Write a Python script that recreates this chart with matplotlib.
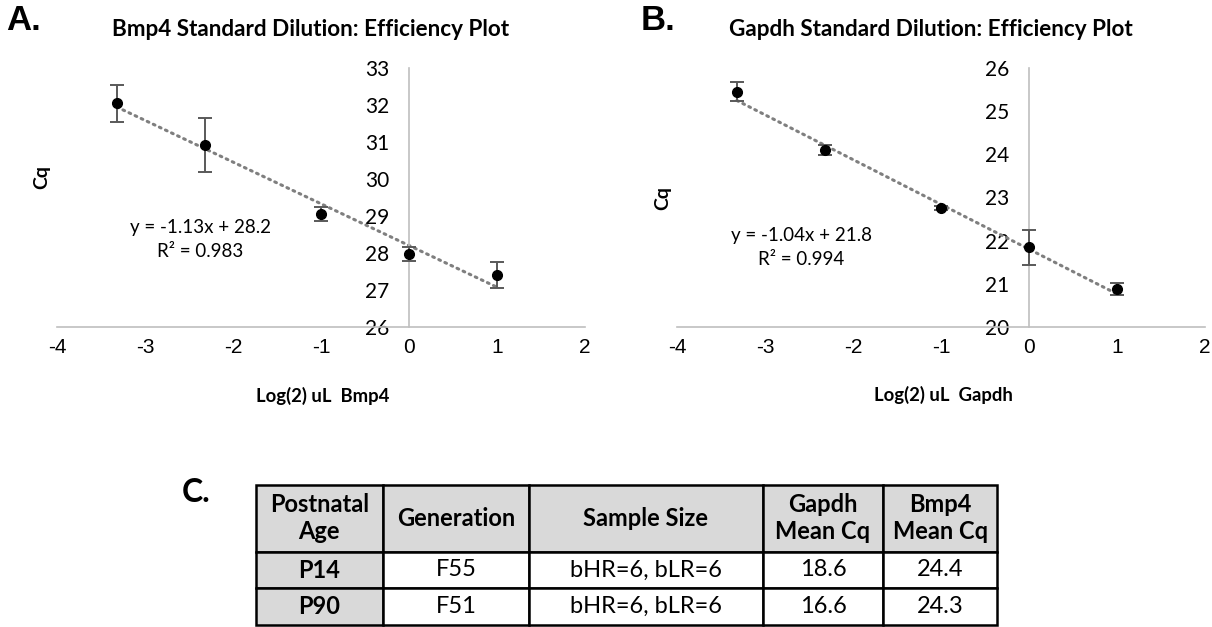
import matplotlib
matplotlib.use('Agg')
import matplotlib.pyplot as plt

plt.rcParams['axes.unicode_minus'] = False

# Serial dilution volumes (log2 uL)
log2_ul = [-3.32, -2.32, -1.0, 0.0, 1.0]

# Bmp4 standard curve
bmp4_cq = [32.05, 30.92, 29.04, 27.97, 27.39]
bmp4_err = [0.50, 0.73, 0.19, 0.19, 0.35]
bmp4_slope, bmp4_icpt, bmp4_r2 = -1.13, 28.2, 0.983

# Gapdh standard curve
gapdh_cq = [25.46, 24.10, 22.76, 21.84, 20.87]
gapdh_err = [0.22, 0.11, 0.05, 0.40, 0.14]
gapdh_slope, gapdh_icpt, gapdh_r2 = -1.04, 21.8, 0.994

# Summary table
col_labels = ['Postnatal\nAge', 'Generation', 'Sample Size', 'Gapdh\nMean Cq', 'Bmp4\nMean Cq']
age = ['P14', 'P90']
generation = ['F55', 'F51']
sample_size = ['bHR=6, bLR=6', 'bHR=6, bLR=6']
gapdh_mean = [18.6, 16.6]
bmp4_mean = [24.4, 24.3]

NARROW = ['Lato', 'DejaVu Sans']
ARIAL = ['Liberation Sans', 'DejaVu Sans']
AXIS_GREY = '#bfbfbf'

W, H = 1212, 627
fig = plt.figure(figsize=(W / 100, H / 100), dpi=100)


def px(x, y):
    # pixel position (top-left origin) -> figure fraction
    return x / W, 1 - y / H


def efficiency_plot(left_px, cq, err, slope, icpt, r2, ylim, eq_pos):
    l, _ = px(left_px, 0)
    ax = fig.add_axes([l, 1 - 326.7 / H, 528 / W, (326.7 - 68.3) / H])
    ax.set_xlim(-4, 2)
    ax.set_ylim(*ylim)
    for s in ['top', 'right']:
        ax.spines[s].set_visible(False)
    ax.spines['left'].set_position(('data', 0))
    for s in ['left', 'bottom']:
        ax.spines[s].set_color(AXIS_GREY)
        ax.spines[s].set_linewidth(1.2)
    ax.set_xticks(range(-4, 3))
    ax.set_yticks(range(ylim[0], ylim[1] + 1))
    ax.tick_params(axis='x', length=0, pad=8, labelsize=15, labelfontfamily=ARIAL)
    ax.tick_params(axis='y', length=0, pad=14, labelsize=15, labelfontfamily=NARROW)

    # trendline over the data range
    tx = [min(log2_ul), max(log2_ul)]
    ty = [slope * v + icpt for v in tx]
    ax.plot(tx, ty, linestyle=(0, (0.6, 1.6)), dash_capstyle='round',
            color='#7f7f7f', linewidth=2.2, zorder=2)
    ax.errorbar(log2_ul, cq, yerr=err, fmt='none', ecolor='#595959',
                elinewidth=1.4, capsize=5, capthick=1.4, zorder=3)
    ax.plot(log2_ul, cq, 'o', color='black', markersize=7, zorder=4)

    ax.text(eq_pos[0], eq_pos[1], f'y = {slope:.2f}x + {icpt:.1f}\nR² = {r2:.3f}',
            ha='center', va='center', fontsize=13.5, family=NARROW, linespacing=1.5)
    return ax


efficiency_plot(57, bmp4_cq, bmp4_err, bmp4_slope, bmp4_icpt, bmp4_r2,
                (26, 33), (-2.37, 28.35))
efficiency_plot(677, gapdh_cq, gapdh_err, gapdh_slope, gapdh_icpt, gapdh_r2,
                (20, 26), (-2.59, 21.85))

# titles, axis labels and panel letters
fig.text(*px(311, 29), 'Bmp4 Standard Dilution: Efficiency Plot', ha='center', va='center',
         fontsize=16.2, fontweight='bold', family=NARROW)
fig.text(*px(931, 29), 'Gapdh Standard Dilution: Efficiency Plot', ha='center', va='center',
         fontsize=16.2, fontweight='bold', family=NARROW)
fig.text(*px(42, 177), 'Cq', rotation=90, ha='center', va='center',
         fontsize=14, fontweight='bold', family=NARROW)
fig.text(*px(663, 198), 'Cq', rotation=90, ha='center', va='center',
         fontsize=14, fontweight='bold', family=NARROW)
fig.text(*px(323, 396), 'Log(2) uL  Bmp4', ha='center', va='center',
         fontsize=13.3, fontweight='bold', family=NARROW)
fig.text(*px(943, 395), 'Log(2) uL  Gapdh', ha='center', va='center',
         fontsize=13.3, fontweight='bold', family=NARROW)
fig.text(*px(6, 20), 'A.', ha='left', va='center', fontsize=25, fontweight='bold', family=ARIAL)
fig.text(*px(641, 20), 'B.', ha='left', va='center', fontsize=25, fontweight='bold', family=ARIAL)
fig.text(*px(182, 493), 'C.', ha='left', va='center', fontsize=23, fontweight='bold', family=NARROW)

# summary table
tl, tb = px(255.7, 625)
tax = fig.add_axes([tl, tb, (997.3 - 255.7) / W, (625 - 485) / H])
tax.axis('off')
rows = [[a, g, s, f'{gm:.1f}', f'{bm:.1f}']
        for a, g, s, gm, bm in zip(age, generation, sample_size, gapdh_mean, bmp4_mean)]
col_w = [127, 146.3, 233.7, 120.6, 114]
tbl = tax.table(cellText=rows, colLabels=col_labels, colWidths=[c / sum(col_w) for c in col_w],
                cellLoc='center', bbox=[0, 0, 1, 1])
tbl.auto_set_font_size(False)
row_h = [66.7, 36.6, 36.7]
for (r, c), cell in tbl.get_celld().items():
    cell.set_height(row_h[r])
    cell.set_linewidth(1.8)
    cell.set_edgecolor('black')
    txt = cell.get_text()
    txt.set_fontsize(17)
    txt.set_family(NARROW)
    txt.set_linespacing(1.2)
    if r == 0 or c == 0:
        cell.set_facecolor('#d9d9d9')
        txt.set_fontweight('bold')

fig.savefig('out.png', dpi=100)
